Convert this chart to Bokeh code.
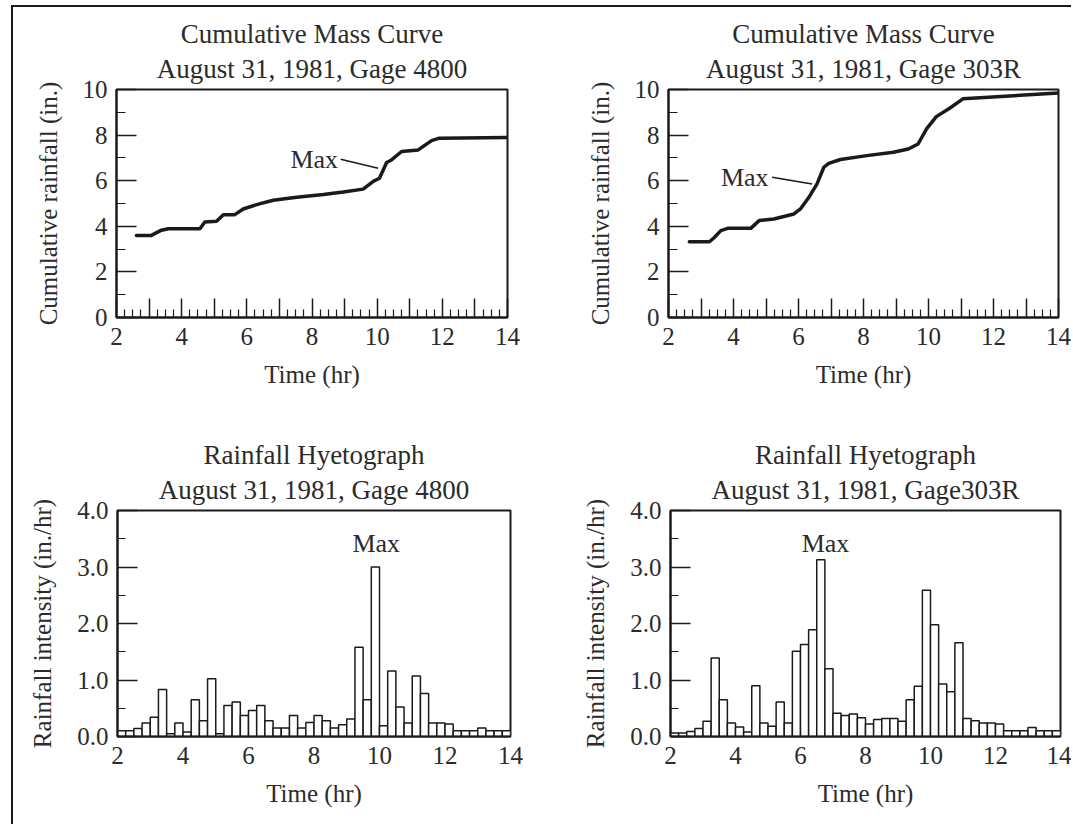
from bokeh.plotting import figure
from bokeh.models import Range1d, FixedTicker, Title
from bokeh.layouts import row, column
from bokeh.embed import file_html
from bokeh.resources import INLINE
from bokeh.core.properties import value

SERIF = "Liberation Serif"
INK = "#1a1a1a"
TXT = "#2b2b2b"

# ---------------- data ----------------
# Cumulative mass curve, Gage 4800 (time hr, cumulative rainfall in.)
mass_4800_t = [2.61, 3.07, 3.38, 3.59, 4.56, 4.71, 5.07, 5.28, 5.63, 5.89, 6.30, 6.81,
               7.53, 8.35, 8.96, 9.57, 9.88, 10.07, 10.29, 10.44, 10.75, 11.26, 11.67,
               11.88, 14.0]
mass_4800_p = [3.60, 3.60, 3.83, 3.89, 3.89, 4.19, 4.22, 4.51, 4.51, 4.76, 4.95, 5.14,
               5.27, 5.39, 5.50, 5.63, 5.97, 6.11, 6.80, 6.91, 7.28, 7.35, 7.76,
               7.86, 7.89]

# Cumulative mass curve, Gage 303R
mass_303r_t = [2.64, 3.26, 3.41, 3.61, 3.82, 4.53, 4.79, 5.24, 5.86, 6.06, 6.32, 6.57,
               6.78, 6.93, 7.29, 8.10, 8.92, 9.38, 9.68, 9.94, 10.24, 10.65, 11.06, 14.0]
mass_303r_p = [3.32, 3.32, 3.51, 3.81, 3.91, 3.91, 4.25, 4.32, 4.54, 4.76, 5.27, 5.86,
               6.59, 6.76, 6.93, 7.10, 7.25, 7.39, 7.61, 8.27, 8.81, 9.18, 9.59, 9.85]

# Hyetographs: 15-minute intervals starting at 2.0 hr (in./hr)
bin_width = 0.25
bin_start = [2.0, 2.25, 2.5, 2.75, 3.0, 3.25, 3.5, 3.75, 4.0, 4.25, 4.5, 4.75,
             5.0, 5.25, 5.5, 5.75, 6.0, 6.25, 6.5, 6.75, 7.0, 7.25, 7.5, 7.75,
             8.0, 8.25, 8.5, 8.75, 9.0, 9.25, 9.5, 9.75, 10.0, 10.25, 10.5, 10.75,
             11.0, 11.25, 11.5, 11.75, 12.0, 12.25, 12.5, 12.75, 13.0, 13.25, 13.5, 13.75]
hyeto_4800 = [0.10, 0.10, 0.14, 0.24, 0.34, 0.83, 0.05, 0.24, 0.08, 0.65, 0.28, 1.02,
              0.05, 0.55, 0.61, 0.37, 0.46, 0.55, 0.28, 0.15, 0.15, 0.37, 0.15, 0.25,
              0.37, 0.28, 0.15, 0.21, 0.31, 1.58, 0.65, 3.00, 0.19, 1.16, 0.52, 0.24,
              1.07, 0.76, 0.24, 0.24, 0.22, 0.10, 0.10, 0.10, 0.15, 0.10, 0.10, 0.10]
hyeto_303r = [0.06, 0.06, 0.09, 0.14, 0.27, 1.39, 0.65, 0.24, 0.17, 0.08, 0.90, 0.24,
              0.18, 0.61, 0.24, 1.51, 1.63, 1.89, 3.13, 1.20, 0.41, 0.37, 0.40, 0.33,
              0.22, 0.30, 0.32, 0.32, 0.27, 0.65, 0.89, 2.59, 1.98, 0.93, 0.79, 1.66,
              0.32, 0.28, 0.24, 0.24, 0.22, 0.10, 0.10, 0.10, 0.16, 0.10, 0.10, 0.10]

# "Max" annotations
max_mass_4800_text = (8.80, 6.92)
max_mass_4800_lead = ([8.88, 10.03], [6.94, 6.55])
max_mass_303r_text = (5.08, 6.15)
max_mass_303r_lead = ([5.19, 6.42], [6.15, 5.86])
max_hyeto_4800_text = (9.90, 3.42)
max_hyeto_303r_text = (6.77, 3.42)

titles = [("Cumulative Mass Curve", "August 31, 1981, Gage 4800"),
          ("Cumulative Mass Curve", "August 31, 1981, Gage 303R"),
          ("Rainfall Hyetograph", "August 31, 1981, Gage 4800"),
          ("Rainfall Hyetograph", "August 31, 1981, Gage303R")]

hour_ticks = [2, 3, 4, 5, 6, 7, 8, 9, 10, 11, 12, 13, 14]
hour_labels = {h: (str(h) if h % 2 == 0 else "") for h in hour_ticks}
quarter_ticks = [h + q for h in range(2, 14) for q in (0.25, 0.5, 0.75)]


def style_title(t, standoff):
    t.align = "center"
    t.text_font = SERIF
    t.text_font_style = "normal"
    t.text_font_size = "27px"
    t.text_color = TXT
    t.standoff = standoff


def base_fig(width, height, bl, br, bt, bb, title, y_end, ylabel):
    p = figure(width=width, height=height, output_backend="svg", toolbar_location=None,
               x_range=Range1d(2, 14), y_range=Range1d(0, y_end),
               min_border_left=bl, min_border_right=br, min_border_top=bt,
               min_border_bottom=bb)
    # outer (top) title line
    p.title.text = title[0]
    style_title(p.title, -5)
    # inner line, next to the frame
    t2 = Title(text=title[1])
    style_title(t2, 11)
    p.add_layout(t2, "above")
    p.xgrid.visible = False
    p.ygrid.visible = False
    p.outline_line_color = INK
    p.outline_line_width = 2
    p.background_fill_color = "white"
    p.border_fill_color = "white"
    for ax in (p.xaxis[0], p.yaxis[0]):
        ax.axis_line_color = INK
        ax.axis_line_width = 2
        ax.major_tick_line_color = INK
        ax.major_tick_line_width = 1.5
        ax.minor_tick_line_color = INK
        ax.minor_tick_line_width = 1.2
        ax.major_tick_out = 0
        ax.minor_tick_out = 0
        ax.major_label_text_font = SERIF
        ax.major_label_text_font_size = "25px"
        ax.major_label_text_color = TXT
        ax.axis_label_text_font = SERIF
        ax.axis_label_text_font_style = "normal"
        ax.axis_label_text_font_size = "25px"
        ax.axis_label_text_color = TXT
    p.xaxis.axis_label = "Time (hr)"
    p.yaxis.axis_label = ylabel
    p.xaxis.major_label_standoff = 10
    p.xaxis.axis_label_standoff = 13
    p.yaxis.major_label_standoff = 9
    p.yaxis.axis_label_standoff = 18
    return p


def mass_fig(width, height, bl, br, bt, bb, title, t, pr, txt_pos, lead):
    p = base_fig(width, height, bl, br, bt, bb, title, 10, "Cumulative rainfall (in.)")
    p.xaxis.ticker = FixedTicker(ticks=hour_ticks, minor_ticks=quarter_ticks)
    p.xaxis.major_label_overrides = hour_labels
    p.xaxis.major_tick_in = 19
    p.xaxis.minor_tick_in = 8
    p.yaxis.ticker = FixedTicker(ticks=[0, 2, 4, 6, 8, 10], minor_ticks=[1, 3, 5, 7, 9])
    p.yaxis.major_tick_in = 20
    p.yaxis.minor_tick_in = 9
    p.line(t, pr, line_width=3.5, line_color=INK, line_join="round", line_cap="round")
    p.line(lead[0], lead[1], line_width=1.5, line_color=INK)
    p.text(x=[txt_pos[0]], y=[txt_pos[1]], text=["Max"], text_font=value(SERIF),
           text_font_size="26px", text_align="right", text_baseline="middle",
           text_color=TXT)
    return p


def hyeto_fig(width, height, bl, br, bt, bb, title, vals, txt_pos):
    p = base_fig(width, height, bl, br, bt, bb, title, 4, "Rainfall intensity (in./hr)")
    p.xaxis.ticker = FixedTicker(ticks=[2, 4, 6, 8, 10, 12, 14])
    p.xaxis.major_tick_in = 0
    p.yaxis.ticker = FixedTicker(ticks=[0, 1, 2, 3, 4], minor_ticks=[0.5, 1.5, 2.5, 3.5])
    p.yaxis.major_label_overrides = {0: "0.0", 1: "1.0", 2: "2.0", 3: "3.0", 4: "4.0"}
    p.yaxis.major_tick_in = 20
    p.yaxis.minor_tick_in = 8
    centers = [s + bin_width / 2 for s in bin_start]
    p.vbar(x=centers, top=vals, bottom=0, width=bin_width, fill_color="white",
           line_color=INK, line_width=1.5)
    p.text(x=[txt_pos[0]], y=[txt_pos[1]], text=["Max"], text_font=value(SERIF),
           text_font_size="26px", text_align="center", text_baseline="middle",
           text_color=TXT)
    return p


p1 = mass_fig(547, 411, 103, 53, 82, 101, titles[0], mass_4800_t, mass_4800_p,
              max_mass_4800_text, max_mass_4800_lead)
p2 = mass_fig(511, 411, 108, 13, 82, 101, titles[1], mass_303r_t, mass_303r_p,
              max_mass_303r_text, max_mass_303r_lead)
p3 = hyeto_fig(547, 406, 104, 50, 92, 88, titles[2], hyeto_4800, max_hyeto_4800_text)
p4 = hyeto_fig(511, 406, 110, 11, 92, 88, titles[3], hyeto_303r, max_hyeto_303r_text)

layout = column(row(p1, p2), row(p3, p4),
                styles={"border-top": "2px solid #1a1a1a", "border-left": "2px solid #1a1a1a",
                        "margin-top": "5px", "margin-left": "11px"})

open("out.html", "w").write(file_html(layout, INLINE))
